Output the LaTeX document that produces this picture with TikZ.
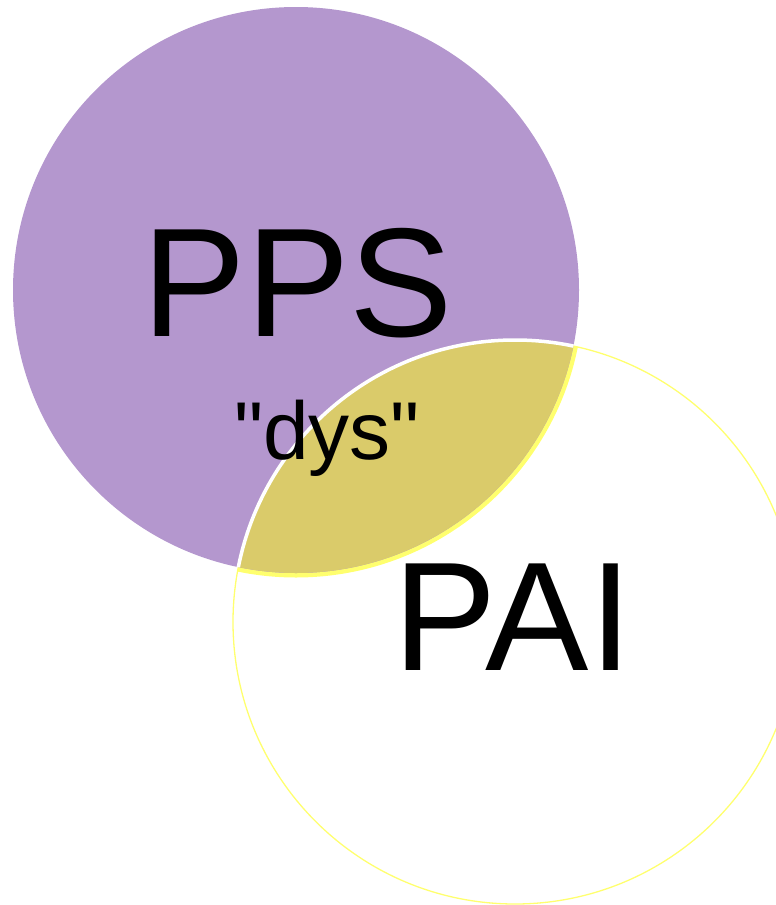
\documentclass[tikz,border=0pt]{standalone}
\usepackage{fontspec}
\setmainfont{Liberation Sans}
\usetikzlibrary{positioning}

\definecolor{ppspurple}{HTML}{B497CE}
\definecolor{dysolive}{HTML}{DACB6A}
\definecolor{paiyellow}{HTML}{FFFF6E}

\tikzset{
  biglabel/.style={anchor=base, inner sep=0pt, text=black, font=\fontsize{155}{160}\selectfont},
  smalllabel/.style={anchor=base, inner sep=0pt, text=black, font=\fontsize{82}{86}\selectfont}
}

\begin{document}
\begin{tikzpicture}[x=1pt, y=-1pt]
  
  % geometry
  \def\ra{283pt}
  \def\rb{282pt}
  \useasboundingbox (0,0) rectangle (776,905);
  \coordinate (pps) at (296,290);
  \coordinate (pai) at (515,622);
  
  % yellow rim of the purple set (outside part only)
  \begin{scope}
    \clip (pai) circle[radius=\rb];
    \draw[paiyellow, line width=9pt] (pps) circle[radius=\ra];
  \end{scope}
  
  % sets
  \fill[ppspurple] (pps) circle[radius=\ra];
  \draw[paiyellow, line width=1.3pt] (pai) circle[radius=\rb];
  
  % overlap
  \begin{scope}
    \clip (pps) circle[radius=\ra];
    \fill[dysolive] (pai) circle[radius=\rb];
    \draw[white, line width=3.5pt] (pai) circle[radius=\rb];
  \end{scope}
  
  % labels
  \node[biglabel] (ppslabel) at (298,336) {PPS};
  \node[biglabel] (pailabel) at (513,670) {PAI};
  \node[smalllabel] (dyslabel) at (327,459) {\textquotedbl dys\textquotedbl};
  
\end{tikzpicture}
\end{document}
